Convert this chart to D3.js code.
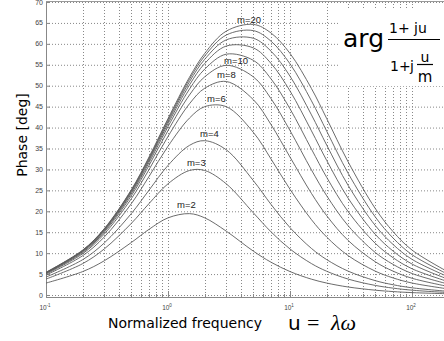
<!DOCTYPE html>
<html><head><meta charset="utf-8">
<script src="https://cdn.jsdelivr.net/npm/d3@7"></script>
<style>body{margin:0;background:#fff}svg{display:block}</style>
</head><body><svg id="c" width="444" height="341"></svg>
<script>
const uSamples = [0.1,0.2,0.3,0.5,0.7,1,1.5,2,3,5,7,10,15,20,30,50,70,100,200];
const mValues = [2,3,4,6,8,10,12,14,16,18,20];
const phase_m2  = [2.85,5.60,8.17,12.53,15.70,18.43,19.44,18.43,15.26,10.49,7.82,5.60,3.78,2.85,1.91,1.15,0.82,0.57,0.29];
const phase_m3  = [3.80,7.50,10.99,17.10,21.86,26.57,29.75,29.75,26.57,19.65,15.07,10.99,7.50,5.67,3.80,2.29,1.64,1.15,0.57];
const phase_m4  = [4.28,8.45,12.41,19.44,25.07,30.96,35.75,36.87,34.70,27.35,21.62,16.09,11.12,8.45,5.69,3.43,2.45,1.72,0.86];
const phase_m6  = [4.76,9.40,13.84,21.80,28.34,35.54,42.27,45.00,45.00,38.88,32.47,25.25,17.99,13.84,9.40,5.70,4.08,2.86,1.43];
const phase_m8  = [5.00,9.88,14.55,22.99,29.99,37.88,45.69,49.40,51.01,46.69,40.68,32.95,24.26,18.94,13.02,7.94,5.70,4.00,2.01];
const phase_m10 = [5.14,10.16,14.98,23.70,30.99,39.29,47.78,52.13,54.87,52.13,46.88,39.29,29.88,23.70,16.53,10.16,7.31,5.14,2.58];
const phase_m12 = [5.23,10.36,15.27,24.18,31.65,40.24,49.19,53.97,57.53,56.07,51.61,44.48,34.85,28.10,19.89,12.35,8.91,6.27,3.15];
const phase_m14 = [5.30,10.49,15.47,24.52,32.13,40.91,50.19,55.31,59.47,59.04,55.31,48.75,39.21,32.13,23.11,14.50,10.49,7.40,3.72];
const phase_m16 = [5.35,10.59,15.63,24.78,32.49,41.42,50.95,56.31,60.95,61.34,58.24,52.28,43.03,35.80,26.16,16.60,12.06,8.52,4.29];
const phase_m18 = [5.39,10.67,15.74,24.97,32.77,41.82,51.55,57.10,62.10,63.17,60.62,55.23,46.38,39.13,29.06,18.65,13.60,9.63,4.86];
const phase_m20 = [5.43,10.74,15.84,25.13,32.99,42.14,52.02,57.72,63.03,64.65,62.58,57.72,49.32,42.14,31.78,20.66,15.13,10.74,5.43];
const seriesValues = [phase_m2,phase_m3,phase_m4,phase_m6,phase_m8,phase_m10,phase_m12,phase_m14,phase_m16,phase_m18,phase_m20];
const curveLabels = ["m=2","m=3","m=4","m=6","m=8","m=10","m=20"];
const labelU   = [1.185,1.43,1.83,2.09,2.52,2.88,3.68];
const labelDeg = [20.8,30.8,37.7,46.1,51.8,55.2,65.0];
const yTicks = [0,5,10,15,20,25,30,35,40,45,50,55,60,65,70];
const xMajor = [0.1,1,10,100];
const xExpLabels = ["-1","0","1","2"];

const svg = d3.select("#c");
const x = d3.scaleLog().domain([0.1,1000]).range([46,534]);
const y = d3.scaleLinear().domain([0,70]).range([295,2]);
const R = 444;

const xGrid = [];
for (let d=0.1; d<100; d*=10) for (let k=1;k<10;k++) xGrid.push(+(d*k).toPrecision(3));
xGrid.push(100);

const g = svg.append("g");
g.selectAll(".hg").data(yTicks).join("line")
  .attr("x1",46).attr("x2",R).attr("y1",d=>y(d)+0.5).attr("y2",d=>y(d)+0.5)
  .attr("stroke","#888").attr("stroke-width",1).attr("stroke-dasharray","1,2");
g.selectAll(".vg").data(xGrid.slice(1)).join("line")
  .attr("x1",d=>Math.round(x(d))+0.5).attr("x2",d=>Math.round(x(d))+0.5).attr("y1",1).attr("y2",297)
  .attr("stroke","#888").attr("stroke-width",1).attr("stroke-dasharray","1,2");

g.append("line").attr("x1",46.5).attr("x2",46.5).attr("y1",1).attr("y2",297.5).attr("stroke","#888");
g.append("line").attr("x1",46).attr("x2",R).attr("y1",1.5).attr("y2",1.5).attr("stroke","#999");
g.append("line").attr("x1",46).attr("x2",R).attr("y1",297.5).attr("y2",297.5).attr("stroke","#888");
g.selectAll(".yt").data(yTicks).join("line")
  .attr("x1",46).attr("x2",50).attr("y1",d=>y(d)+0.5).attr("y2",d=>y(d)+0.5).attr("stroke","#888");
g.selectAll(".xt").data(xGrid).join("line")
  .attr("x1",d=>Math.round(x(d))+0.5).attr("x2",d=>Math.round(x(d))+0.5)
  .attr("y1",297).attr("y2",d=>xMajor.includes(d)?291:294).attr("stroke","#888");

g.selectAll(".yl").data(yTicks).join("text")
  .attr("x",43).attr("y",d=>y(d)+2.5).attr("text-anchor","end")
  .attr("font-family","Liberation Sans, Arial").attr("font-size",7).attr("fill","#444")
  .text(d=>d);
const xl = g.selectAll(".xl").data(xMajor).join("text")
  .attr("x",(d,i)=>x(d)-1).attr("y",310).attr("text-anchor","middle")
  .attr("font-family","Liberation Sans, Arial").attr("font-size",6.5).attr("fill","#444");
xl.append("tspan").text("10");
xl.append("tspan").attr("dy",-3).attr("font-size",4.5).text((d,i)=>xExpLabels[i]);

const line = d3.line().x(d=>x(d[0])).y(d=>y(d[1])).curve(d3.curveCatmullRom.alpha(0.5));
g.selectAll(".c").data(seriesValues).join("path")
  .attr("d",vals=>line(uSamples.map((u,i)=>[u,vals[i]])))
  .attr("fill","none").attr("stroke","#5a5a5a").attr("stroke-width",0.9);

g.selectAll(".cl").data(curveLabels).join("text")
  .attr("x",(d,i)=>x(labelU[i])).attr("y",(d,i)=>y(labelDeg[i]))
  .attr("font-family","Liberation Sans, Arial").attr("font-size",9.5).attr("fill","#222")
  .text(d=>d);

svg.append("text").attr("transform","translate(27,135) rotate(-90)").attr("text-anchor","middle")
  .attr("font-family","DejaVu Sans").attr("font-size",14).attr("fill","#000").text("Phase [deg]");
svg.append("text").attr("x",108).attr("y",328)
  .attr("font-family","DejaVu Sans").attr("font-size",14).attr("fill","#000").text("Normalized frequency");
svg.append("text").attr("x",288).attr("y",330)
  .attr("font-family","DejaVu Sans").attr("font-size",20).attr("fill","#000").text("u");
svg.append("text").attr("x",307).attr("y",330)
  .attr("font-family","Liberation Serif").attr("font-size",22).attr("fill","#000").text("=");
svg.append("text").attr("x",331).attr("y",330)
  .attr("font-family","Liberation Serif").attr("font-style","italic").attr("font-size",22).attr("fill","#000").text("λω");

const F = svg.append("g").attr("font-family","DejaVu Sans").attr("fill","#000");
F.append("rect").attr("x",340).attr("y",8).attr("width",104).attr("height",78).attr("fill","#fff");
F.append("text").attr("x",343).attr("y",47).attr("font-size",25).text("arg");
F.append("text").attr("x",389).attr("y",33).attr("font-size",14).text("1+");
F.append("text").attr("x",414).attr("y",33).attr("font-size",14).text("ju");
F.append("line").attr("x1",388).attr("x2",440).attr("y1",39.5).attr("y2",39.5).attr("stroke","#000").attr("stroke-width",1.2);
F.append("text").attr("x",390).attr("y",70.5).attr("font-size",14).text("1+");
F.append("text").attr("x",410).attr("y",70.5).attr("font-size",14).text("j");
F.append("text").attr("x",425).attr("y",62).attr("text-anchor","middle").attr("font-size",14).text("u");
F.append("line").attr("x1",417).attr("x2",433).attr("y1",64.5).attr("y2",64.5).attr("stroke","#000").attr("stroke-width",1.2);
F.append("text").attr("x",425).attr("y",82).attr("text-anchor","middle").attr("font-size",15).text("m");
</script></body></html>
